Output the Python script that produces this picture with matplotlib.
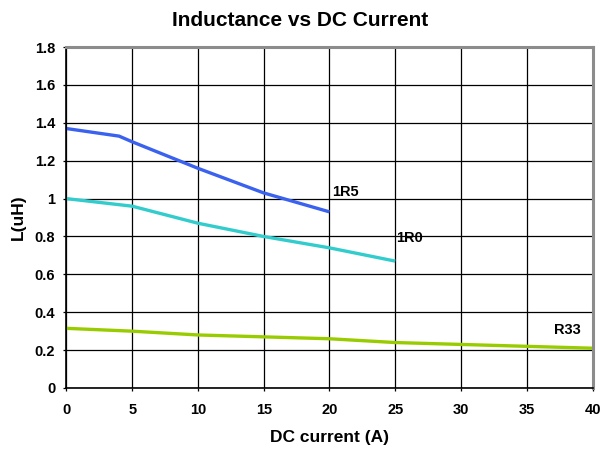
import numpy as np
import matplotlib.pyplot as plt

plt.rcParams['font.family'] = ['Liberation Sans', 'DejaVu Sans']
plt.rcParams['font.weight'] = 'bold'

# series
x_1r5 = [0, 4, 5, 10, 15, 20]
y_1r5 = [1.37, 1.33, 1.30, 1.16, 1.03, 0.93]

x_1r0 = [0, 5, 10, 15, 20, 25]
y_1r0 = [1.0, 0.96, 0.87, 0.80, 0.74, 0.67]

x_r33 = [0, 5, 10, 15, 20, 25, 30, 35, 40]
y_r33 = [0.315, 0.30, 0.28, 0.27, 0.26, 0.24, 0.23, 0.22, 0.21]

xticks = [0, 5, 10, 15, 20, 25, 30, 35, 40]
yticks = [0, 0.2, 0.4, 0.6, 0.8, 1, 1.2, 1.4, 1.6, 1.8]
ylabels = ['0', '0.2', '0.4', '0.6', '0.8', '1', '1.2', '1.4', '1.6', '1.8']

fig = plt.figure(figsize=(6.04, 4.53), dpi=100)
ax = fig.add_axes([0.110, 0.1435, 0.871, 0.7525])

ax.plot(x_1r5, y_1r5, color='#3a62ee', lw=2.4, solid_capstyle='butt')
ax.plot(x_1r0, y_1r0, color='#33cccc', lw=2.4, solid_capstyle='butt')
ax.plot(x_r33, y_r33, color='#99cc00', lw=2.4, solid_capstyle='butt')

ax.text(20.2, 1.037, '1R5', fontsize=10.5, fontweight='bold', va='center')
ax.text(25.1, 0.79, '1R0', fontsize=10.5, fontweight='bold', va='center')
ax.text(37.1, 0.305, 'R33', fontsize=10.5, fontweight='bold', va='center')

ax.set_xlim(0, 40)
ax.set_ylim(0, 1.8)
ax.set_xticks(xticks)
ax.set_yticks(yticks)
ax.set_yticklabels(ylabels)
ax.grid(True, color='black', lw=0.9)
ax.set_axisbelow(True)
ax.tick_params(labelsize=10.5, length=2, width=0.9)
ax.tick_params(axis='y', pad=6)
ax.tick_params(axis='x', pad=9)
for lab in ax.get_xticklabels() + ax.get_yticklabels():
    lab.set_fontweight('bold')

for s in ['left', 'bottom']:
    ax.spines[s].set_color('black')
    ax.spines[s].set_linewidth(1.2)
for s in ['top', 'right']:
    ax.spines[s].set_color('#8c8c8c')
    ax.spines[s].set_linewidth(2.2)

ax.set_xlabel('DC current (A)', fontsize=12.5, fontweight='bold', labelpad=9)
ax.set_ylabel('L(uH)', fontsize=12.5, fontweight='bold', labelpad=6)
# title sits over the whole figure, not the axes
fig.text(0.497, 0.955, 'Inductance vs DC Current', fontsize=15, fontweight='bold',
         ha='center', va='center')

fig.savefig('out.png', dpi=100)
